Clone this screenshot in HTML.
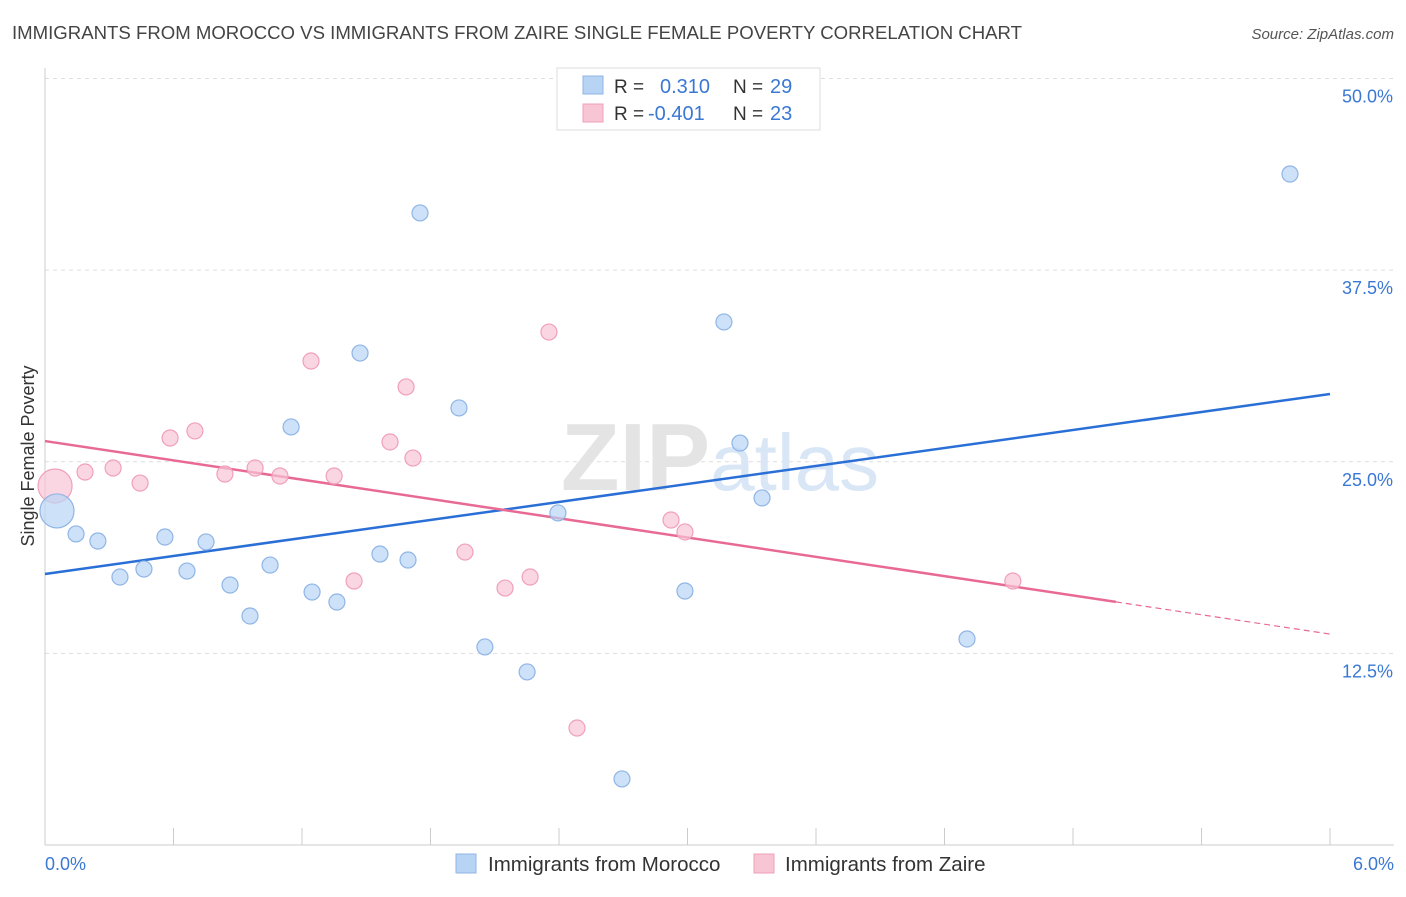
<!DOCTYPE html>
<html><head><meta charset="utf-8">
<style>
body{margin:0;background:#fff;font-family:"Liberation Sans",sans-serif;}
svg text{font-family:"Liberation Sans",sans-serif;}
</style></head>
<body>
<svg width="1406" height="892" viewBox="0 0 1406 892" xmlns="http://www.w3.org/2000/svg">
<text x="12" y="39" font-size="18.6" fill="#444">IMMIGRANTS FROM MOROCCO VS IMMIGRANTS FROM ZAIRE SINGLE FEMALE POVERTY CORRELATION CHART</text>
<text x="1394" y="39" font-size="15" fill="#555" font-style="italic" text-anchor="end">Source: ZipAtlas.com</text>
<g id="grid"></g>
<text x="720" y="490" font-size="96" text-anchor="middle" fill="#e4e4e4" font-family="Liberation Serif" font-weight="bold">ZIP<tspan fill="#d8e6f6" font-family="Liberation Sans" font-weight="normal" font-size="80">atlas</tspan></text>
<g id="axes"></g>
<g id="lines"></g>
<g id="points"></g>
<text transform="translate(34,456) rotate(-90)" font-size="18" fill="#333" text-anchor="middle">Single Female Poverty</text>
<text x="45" y="870" font-size="18" fill="#3a78d4">0.0%</text>
<text x="1394" y="870" font-size="18" fill="#3a78d4" text-anchor="end">6.0%</text>
<g>
<rect x="557" y="68" width="263" height="62" fill="#fff" stroke="#ddd"/>
<rect x="583" y="76" width="20" height="18" fill="#b8d4f5" stroke="#8fb5e6"/>
<rect x="583" y="104" width="20" height="18" fill="#f8c5d5" stroke="#f0a0b8"/>
<text x="614" y="93" font-size="19" fill="#333">R =</text>
<text x="660" y="93" font-size="20" fill="#3a78d4">0.310</text>
<text x="733" y="93" font-size="19" fill="#333">N =</text>
<text x="770" y="93" font-size="20" fill="#3a78d4">29</text>
<text x="614" y="120" font-size="19" fill="#333">R =</text>
<text x="648" y="120" font-size="20" fill="#3a78d4">-0.401</text>
<text x="733" y="120" font-size="19" fill="#333">N =</text>
<text x="770" y="120" font-size="20" fill="#3a78d4">23</text>
</g>
<g>
<rect x="456" y="854" width="20" height="19" fill="#b8d4f5" stroke="#8fb5e6"/>
<text x="488" y="871" font-size="20.5" fill="#333">Immigrants from Morocco</text>
<rect x="754" y="854" width="20" height="19" fill="#f8c5d5" stroke="#f0a0b8"/>
<text x="785" y="871" font-size="20.5" fill="#333">Immigrants from Zaire</text>
</g>
</svg>
<script>
const yTicks=[12.5,25,37.5,50];
const yTickLabels=["12.5%","25.0%","37.5%","50.0%"];
const blueX=[0.056,0.145,0.247,0.350,0.462,0.560,0.663,0.752,0.864,0.957,1.051,1.149,1.247,1.363,1.471,1.564,1.695,1.751,1.933,2.054,2.251,2.395,2.694,2.988,3.170,3.245,3.348,4.305,5.813];
const blueY=[21.79,20.29,19.83,17.48,18.00,20.09,17.87,19.77,16.96,14.94,18.26,27.27,16.50,15.85,32.09,18.98,18.59,41.23,28.51,12.92,11.29,21.66,4.31,16.57,34.12,26.22,22.64,13.44,43.77];
const blueBig=[0];
const pinkX=[0.047,0.187,0.318,0.444,0.584,0.700,0.840,0.981,1.097,1.242,1.350,1.443,1.611,1.686,1.718,1.961,2.148,2.265,2.353,2.484,2.923,2.988,4.519];
const pinkY=[23.42,24.33,24.59,23.61,26.55,27.01,24.20,24.59,24.07,31.57,24.07,17.22,26.29,29.88,25.24,19.11,16.76,17.48,33.46,7.63,21.20,20.42,17.22];
const pinkBig=[0];
const blueTrend=[17.68,29.42];
const pinkTrend=[26.35,13.76];
const pinkSolidEnd=5.0;

const NS="http://www.w3.org/2000/svg";
const X=v=>45+v*214.17, Y=v=>845-v*15.33;
function mk(t,a,p){const e=document.createElementNS(NS,t);for(const k in a)e.setAttribute(k,a[k]);document.getElementById(p).appendChild(e);return e;}
yTicks.forEach((t,i)=>{
 const g=mk('line',{x1:45,x2:1394,y1:Y(t),y2:Y(t),stroke:'#ddd','stroke-dasharray':'4,4'},'grid');
 
 
 const l=mk('text',{x:1393,y:Y(t)+24,'font-size':18,fill:'#3a78d4','text-anchor':'end'},'grid');
 l.textContent=yTickLabels[i];
 
 
});
const ax=mk('line',{x1:45,x2:45,y1:68,y2:845,stroke:'#ccc'},'axes');


const bx=mk('line',{x1:45,x2:1394,y1:845,y2:845,stroke:'#ccc'},'axes');


for(let i=1;i<=10;i++){const t=mk('line',{x1:X(i*0.6),x2:X(i*0.6),y1:828,y2:845,stroke:'#ccc'},'axes');
 
 }
function pts(xs,ys,big,fill,stroke,name){xs.forEach((x,i)=>{const c=mk('circle',{cx:X(x),cy:Y(ys[i]),r:big.includes(i)?17:8,fill:fill,'fill-opacity':0.7,stroke:stroke,'stroke-width':1.2},'points');
 
 });}
pts(pinkX,pinkY,pinkBig,'#f8c5d5','#f0a0b8','zaire-point');
pts(blueX,blueY,blueBig,'#b8d4f5','#8fb5e6','morocco-point');
const bl=mk('line',{x1:X(0),y1:Y(blueTrend[0]),x2:X(6),y2:Y(blueTrend[1]),stroke:'#2a6fd6','stroke-width':2.5},'lines');


const py=x=>pinkTrend[0]+(pinkTrend[1]-pinkTrend[0])*x/6;
const pl=mk('line',{x1:X(0),y1:Y(py(0)),x2:X(pinkSolidEnd),y2:Y(py(pinkSolidEnd)),stroke:'#e86a94','stroke-width':2.5},'lines');


const pd=mk('line',{x1:X(pinkSolidEnd),y1:Y(py(pinkSolidEnd)),x2:X(6),y2:Y(py(6)),stroke:'#e86a94','stroke-width':1.2,'stroke-dasharray':'6,4'},'lines');


</script>
</body></html>
